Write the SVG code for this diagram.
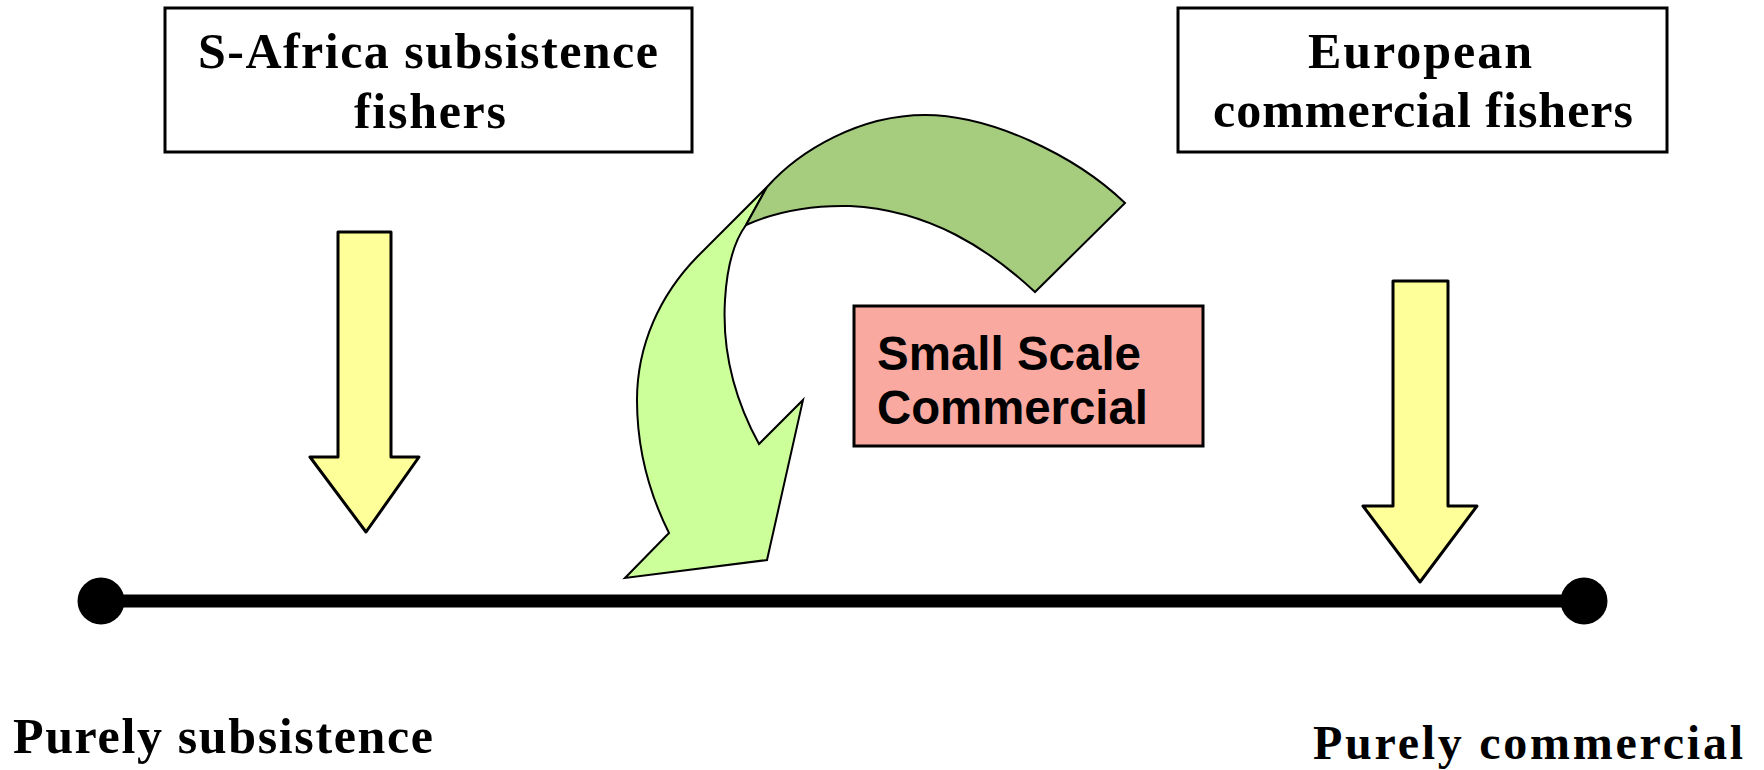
<svg xmlns="http://www.w3.org/2000/svg" width="1764" height="770" viewBox="0 0 1764 770">
<style>
.box{fill:#fff;stroke:#000;stroke-width:3}
.serif{font-family:"Liberation Serif","Times New Roman",serif;font-weight:bold;fill:#000}
.sans{font-family:"Liberation Sans",Arial,sans-serif;font-weight:bold;fill:#000}
.yarrow{fill:#FFFF99;stroke:#000;stroke-width:3;stroke-linejoin:round}
.garrow{stroke:#000;stroke-width:2;stroke-linejoin:miter}
</style>
<rect width="1764" height="770" fill="#fff"/>
<g id="node-safrica">
<rect class="box" x="165" y="8" width="527" height="144"/>
<text class="serif" font-size="50" x="428" y="68" text-anchor="middle" textLength="460" lengthAdjust="spacing">S-Africa subsistence</text>
<text class="serif" font-size="50" x="430" y="128" text-anchor="middle" textLength="152" lengthAdjust="spacing">fishers</text>
</g>
<g id="node-european">
<rect class="box" x="1178" y="8" width="489" height="144"/>
<text class="serif" font-size="50" x="1420" y="68" text-anchor="middle" textLength="224" lengthAdjust="spacing">European</text>
<text class="serif" font-size="50" x="1423" y="127" text-anchor="middle" textLength="420" lengthAdjust="spacing">commercial fishers</text>
</g>
<g id="node-smallscale">
<rect x="854" y="306" width="349" height="140" fill="#FAA9A0" stroke="#000" stroke-width="3"/>
<text class="sans" font-size="48" x="877" y="370" textLength="264" lengthAdjust="spacingAndGlyphs">Small Scale</text>
<text class="sans" font-size="48" x="877" y="424" textLength="271" lengthAdjust="spacingAndGlyphs">Commercial</text>
</g>
<g id="node-axis">
<line x1="101" y1="601" x2="1584" y2="601" stroke="#000" stroke-width="13"/>
<circle cx="101" cy="601" r="23.5" fill="#000"/>
<circle cx="1584" cy="601" r="23.5" fill="#000"/>
</g>
<g id="node-label-subsistence">
<text class="serif" font-size="50" x="13" y="753" textLength="420" lengthAdjust="spacing">Purely subsistence</text>
</g>
<g id="node-label-commercial">
<text class="serif" font-size="48" x="1313" y="759" textLength="430" lengthAdjust="spacing">Purely commercial</text>
</g>
<g id="connectors">
<path id="arrow-left" class="yarrow" d="M338,232 L391,232 L391,457 L419,457 L366,532 L310,457 L338,457 Z"/>
<path id="arrow-right" class="yarrow" d="M1393,281 L1448,281 L1448,506 L1477,506 L1420,582 L1363,506 L1393,506 Z"/>
<path id="arrow-curve-light" class="garrow" fill="#CCFF99" d="M767,187 L697,257 C660,295 637,345 637,400 C637,450 650,495 669,533 L625,578 L767,560 L803,400 L759,444 C735,400 722,350 725,300 C727,265 735,240 746,225 Z"/>
<path id="arrow-curve-dark" class="garrow" fill="#A6CC7E" d="M767,187 C800,150 860,115 925,115 C990,115 1075,155 1125,203 L1035,292 C990,250 930,210 850,206 C810,205 775,212 746,225 Z"/>
</g>
</svg>
